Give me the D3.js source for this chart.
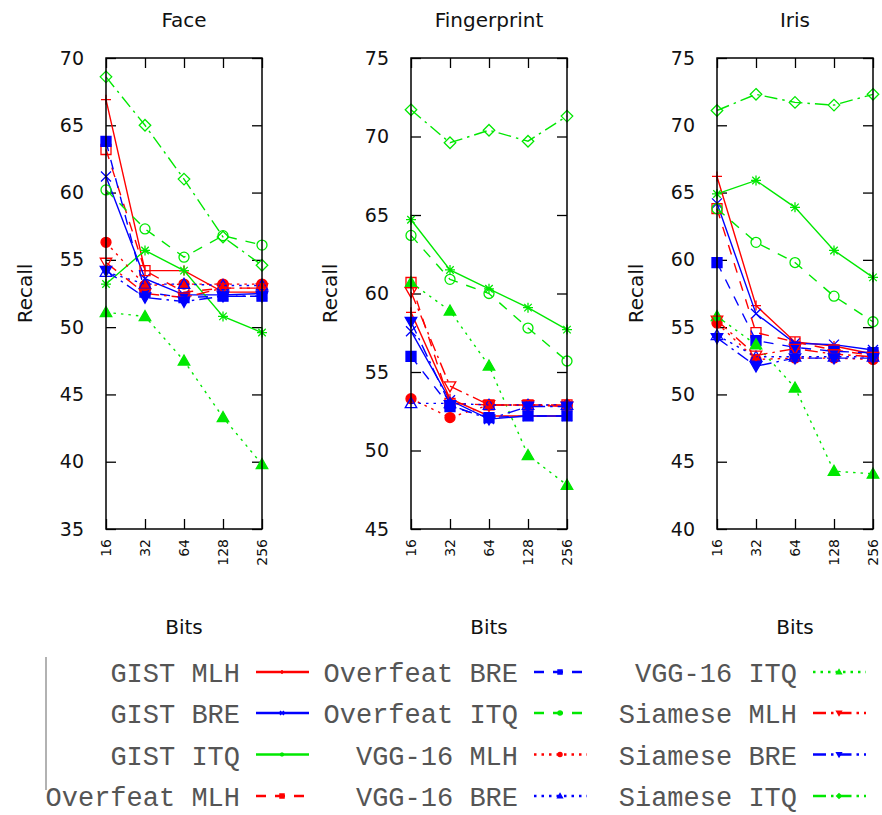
<!DOCTYPE html>
<html>
<head>
<meta charset="utf-8">
<script src="https://cdn.jsdelivr.net/npm/d3@7"></script>
<style>
body { margin: 0; background: #fff; }
</style>
</head>
<body>
<div id="chart-area"></div>
<script>
var bits = ["16", "32", "64", "128", "256"];

var methods = [
    "GIST MLH", "GIST BRE", "GIST ITQ",
    "Overfeat MLH", "Overfeat BRE", "Overfeat ITQ",
    "VGG-16 MLH", "VGG-16 BRE", "VGG-16 ITQ",
    "Siamese MLH", "Siamese BRE", "Siamese ITQ"
];

// recall per method, one row per method, one value per bit length
var face = [
    [66.9, 54.2, 54.2, 52.6, 52.6],
    [61.2, 53.6, 52.4, 52.4, 52.5],
    [53.2, 55.7, 54.2, 50.8, 49.6],
    [63.2, 54.2, 52.6, 52.9, 52.9],
    [63.8, 52.6, 52.2, 52.3, 52.3],
    [60.2, 57.3, 55.2, 56.8, 56.1],
    [56.3, 53.1, 53.2, 53.2, 53.2],
    [54.1, 53.2, 53.2, 53.1, 53.1],
    [51.1, 50.8, 47.5, 43.3, 39.8],
    [54.8, 52.5, 52.2, 52.9, 52.9],
    [54.2, 52.2, 51.9, 52.3, 52.3],
    [68.6, 65.0, 61.0, 56.7, 54.6]
];

var fingerprint = [
    [58.8, 53.3, 52.2, 52.2, 52.2],
    [57.6, 53.2, 52.0, 52.2, 52.2],
    [64.7, 61.5, 60.3, 59.1, 57.7],
    [60.7, 53.0, 52.9, 52.9, 52.9],
    [56.0, 52.8, 52.1, 52.2, 52.2],
    [63.7, 60.9, 60.0, 57.8, 55.7],
    [53.3, 52.1, 52.9, 52.9, 52.9],
    [53.0, 53.0, 52.9, 52.9, 52.9],
    [60.7, 58.9, 55.4, 49.7, 47.8],
    [60.1, 54.1, 52.9, 52.9, 52.8],
    [58.2, 52.9, 52.0, 52.8, 52.8],
    [71.7, 69.6, 70.4, 69.7, 71.3]
];

var iris = [
    [66.2, 56.6, 53.9, 53.6, 53.0],
    [64.2, 56.0, 53.8, 53.7, 53.3],
    [64.9, 65.9, 63.9, 60.7, 58.7],
    [63.8, 54.6, 53.9, 53.3, 52.9],
    [59.8, 54.0, 53.5, 53.2, 53.1],
    [63.8, 61.3, 59.8, 57.3, 55.4],
    [55.3, 52.6, 52.7, 52.7, 52.6],
    [54.4, 52.8, 52.8, 52.8, 52.8],
    [55.8, 53.7, 50.5, 44.3, 44.1],
    [55.5, 52.9, 53.4, 53.0, 52.8],
    [54.2, 52.1, 52.7, 52.7, 52.7],
    [71.1, 72.3, 71.7, 71.5, 72.3]
];

var titles = ["Face", "Fingerprint", "Iris"];
var faceTicks = [35, 40, 45, 50, 55, 60, 65, 70];
var fingerprintTicks = [45, 50, 55, 60, 65, 70, 75];
var irisTicks = [40, 45, 50, 55, 60, 65, 70, 75];

var width = 882;
var height = 815;
var top_ = 58, bottom = 529;
var lefts = [106, 411, 717];
var plotW = 156;

var hashColor = {MLH: "#ff0000", BRE: "#0000ff", ITQ: "#00e800"};
var featDash = {GIST: null, Overfeat: "10,9", "VGG-16": "2.5,5", Siamese: "13,5,2.5,5"};

function styleOf(i) {
    var parts = methods[i].split(" ");
    return {color: hashColor[parts[1]], dash: featDash[parts[0]], type: i + 1};
}

// gnuplot-like point types 1..12
function marker(type, s) {
    var t = s * 1.15;
    switch (type) {
        case 1: return {d: "M" + -s + ",0H" + s + "M0," + -s + "V" + s, fill: false};
        case 2: return {d: "M" + -s + "," + -s + "L" + s + "," + s + "M" + -s + "," + s + "L" + s + "," + -s, fill: false};
        case 3: return {d: "M" + -s + ",0H" + s + "M0," + -s + "V" + s +
            "M" + -s * 0.75 + "," + -s * 0.75 + "L" + s * 0.75 + "," + s * 0.75 +
            "M" + -s * 0.75 + "," + s * 0.75 + "L" + s * 0.75 + "," + -s * 0.75, fill: false};
        case 4:
        case 5: return {d: "M" + -s + "," + -s + "H" + s + "V" + s + "H" + -s + "Z", fill: type == 5};
        case 6:
        case 7: return {d: "M" + s + ",0A" + s + "," + s + " 0 1,1 " + -s + ",0A" + s + "," + s + " 0 1,1 " + s + ",0Z", fill: type == 7};
        case 8:
        case 9: return {d: "M0," + -t + "L" + t + "," + t * 0.75 + "L" + -t + "," + t * 0.75 + "Z", fill: type == 9};
        case 10:
        case 11: return {d: "M0," + t + "L" + t + "," + -t * 0.75 + "L" + -t + "," + -t * 0.75 + "Z", fill: type == 11};
        default: return {d: "M0," + -t + "L" + t + ",0L0," + t + "L" + -t + ",0Z", fill: false};
    }
}

var svg = d3.select("#chart-area")
    .append("svg")
        .attr("width", width)
        .attr("height", height)
        .style("font-family", "'DejaVu Sans', sans-serif");

var datasets = [face, fingerprint, iris];
var tickSets = [faceTicks, fingerprintTicks, irisTicks];

datasets.forEach(function(data, p) {
    var ticks = tickSets[p];
    var x = d3.scalePoint().domain(bits).range([0, plotW]);
    var y = d3.scaleLinear()
        .domain([ticks[0], ticks[ticks.length - 1]])
        .range([bottom - top_, 0]);
    var h = bottom - top_;

    var g = svg.append("g")
        .attr("transform", "translate(" + lefts[p] + ", " + top_ + ")");

    // axes with inward ticks on all four sides
    g.append("g").call(d3.axisLeft(y).tickValues(ticks).tickSize(-10).tickPadding(22).tickFormat(d3.format("d")));
    g.append("g").attr("transform", "translate(" + plotW + ",0)")
        .call(d3.axisRight(y).tickValues(ticks).tickSize(-10).tickFormat(""));
    g.append("g").attr("transform", "translate(0," + h + ")")
        .call(d3.axisBottom(x).tickSize(-10).tickFormat(""));
    g.append("g").call(d3.axisTop(x).tickSize(-10).tickFormat(""));
    g.selectAll(".domain").remove();
    g.selectAll(".tick line").attr("stroke", "#000").attr("stroke-width", 1.3);
    g.selectAll(".tick text").attr("font-size", "19px").attr("fill", "#111")
        .attr("font-family", "'DejaVu Sans', sans-serif");

    // rotated bit labels
    g.selectAll(".bitlabel").data(bits).enter()
        .append("text")
        .attr("class", "bitlabel")
        .attr("transform", function(d) { return "translate(" + (x(d) + 5) + "," + (h + 10) + ") rotate(-90)"; })
        .attr("text-anchor", "end")
        .attr("font-size", "14px")
        .attr("fill", "#111")
        .text(function(d) { return d; });

    var line = d3.line()
        .x(function(d, i) { return x(bits[i]); })
        .y(function(d) { return y(d); });

    data.forEach(function(vals, i) {
        var st = styleOf(i);
        g.append("path")
            .attr("d", line(vals))
            .attr("fill", "none")
            .attr("stroke", st.color)
            .attr("stroke-width", 1.4)
            .attr("stroke-dasharray", st.dash);
        var m = marker(st.type, 5);
        g.selectAll(".pt" + i).data(vals).enter()
            .append("path")
            .attr("transform", function(d, k) { return "translate(" + x(bits[k]) + "," + y(d) + ")"; })
            .attr("d", m.d)
            .attr("fill", m.fill ? st.color : "none")
            .attr("stroke", st.color)
            .attr("stroke-width", 1.3);
    });

    g.append("rect")
        .attr("width", plotW).attr("height", h)
        .attr("fill", "none").attr("stroke", "#000").attr("stroke-width", 1.5);

    g.append("text")
        .attr("x", plotW / 2).attr("y", -38)
        .attr("text-anchor", "middle").attr("dominant-baseline", "central")
        .attr("font-size", "20px").attr("fill", "#111")
        .text(titles[p]);

    g.append("text")
        .attr("x", plotW / 2).attr("y", 569)
        .attr("text-anchor", "middle").attr("dominant-baseline", "central")
        .attr("font-size", "20px").attr("fill", "#111")
        .text("Bits");

    g.append("text")
        .attr("transform", "translate(-81," + h / 2 + ") rotate(-90)")
        .attr("text-anchor", "middle").attr("dominant-baseline", "central")
        .attr("font-size", "20px").attr("fill", "#111")
        .text("Recall");
});

// legend
var rowY = [674, 715, 756.5, 798];
var colX = [240, 518, 797];
var legend = svg.append("g");

legend.append("line")
    .attr("x1", 46).attr("x2", 46).attr("y1", 657).attr("y2", 790)
    .attr("stroke", "#999").attr("stroke-width", 1.5);

methods.forEach(function(name, i) {
    var st = styleOf(i);
    var cx = colX[Math.floor(i / 4)];
    var cy = rowY[i % 4];
    legend.append("text")
        .attr("x", cx).attr("y", cy + 8)
        .attr("text-anchor", "end")
        .attr("font-family", "'Liberation Mono', monospace")
        .attr("font-size", "27px")
        .attr("fill", "#555")
        .text(name);
    legend.append("line")
        .attr("x1", cx + 16).attr("x2", cx + 69)
        .attr("y1", cy - 2).attr("y2", cy - 2)
        .attr("stroke", st.color).attr("stroke-width", 2.5)
        .attr("stroke-dasharray", st.dash);
    var m = marker(st.type, 2);
    legend.append("path")
        .attr("transform", "translate(" + (cx + 42) + "," + (cy - 2) + ")")
        .attr("d", m.d)
        .attr("fill", st.color)
        .attr("stroke", st.color)
        .attr("stroke-width", 1.5);
});
</script>
</body>
</html>
